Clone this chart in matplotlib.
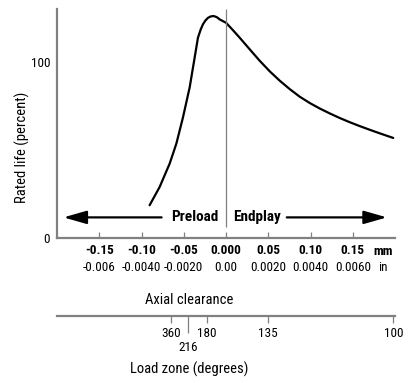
import matplotlib
matplotlib.use("Agg")

import matplotlib.pyplot as plt

plt.rcParams["font.family"] = ["Roboto Condensed", "DejaVu Sans"]

# curve (axial clearance in mm, rated life in percent)
clearance_mm = [-0.0904, -0.0785, -0.0667, -0.0588, -0.0509, -0.0430, -0.0371,
                -0.0332, -0.0300, -0.0273, -0.0243, -0.0213, -0.0180, -0.0146,
                -0.0110, -0.0075, 0.0, 0.0080, 0.0162, 0.0281, 0.0399, 0.0518,
                0.0636, 0.0755, 0.0873, 0.0992, 0.1110, 0.1229, 0.1347, 0.1466,
                0.1584, 0.1703, 0.1821, 0.1979]
rated_life = [18.6, 29.0, 42.2, 53.5, 68.5, 85.5, 102.4, 113.7, 118.3, 121.3,
              123.5, 125.0, 125.8, 126.0, 125.4, 124.1, 122.2, 118.1, 113.7,
              107.1, 100.6, 94.6, 89.3, 84.5, 80.2, 76.6, 73.5, 70.7, 68.1,
              65.7, 63.5, 61.4, 59.4, 56.8]

mm_ticks = [-0.15, -0.10, -0.05, 0.0, 0.05, 0.10, 0.15]
mm_labels = ["-0.15", "-0.10", "-0.05", "0.000", "0.05", "0.10", "0.15"]
in_labels = ["-0.006", "-0.0040", "-0.0020", "0.00", "0.0020", "0.0040", "0.0060"]

load_zone_deg = ["360", "180", "135", "100"]
load_zone_pos = [-0.065, -0.023, 0.050, 0.198]
load_zone_mid_deg = ["216"]
load_zone_mid_pos = [-0.045]

GRAY = "#808080"

fig = plt.figure(figsize=(4.15, 3.83), dpi=100)
L, W = 57 / 415, 338 / 415
ax = fig.add_axes([L, 1 - 238 / 383, W, 229 / 383])

ax.plot(clearance_mm, rated_life, color="black", lw=1.6,
        solid_capstyle="round", solid_joinstyle="round")
ax.vlines(0, 6, 130, color=GRAY, lw=0.9)

ax.set_xlim(-0.2, 0.2)
ax.set_ylim(0, 130)
for side in ("top", "right"):
    ax.spines[side].set_visible(False)
for side in ("left", "bottom"):
    ax.spines[side].set_color(GRAY)
    ax.spines[side].set_linewidth(1.6)

ax.set_xticks(mm_ticks, labels=mm_labels, fontweight="bold", fontsize=9.5)
ax.tick_params(axis="x", direction="in", length=4.5, width=0.9, color=GRAY, pad=4)
ax.set_yticks([0, 100])
ax.tick_params(axis="y", length=0, pad=5, labelsize=9.5)

for x, lab in zip(mm_ticks, in_labels):
    ax.text(x, -16.6, lab, ha="center", va="center", fontsize=9.5, clip_on=False)
ax.text(0.186, -7.7, "mm", ha="center", va="center", fontsize=9.5,
        fontweight="bold", clip_on=False)
ax.text(0.186, -16.6, "in", ha="center", va="center", fontsize=9.5, clip_on=False)

arrow = dict(arrowstyle="-|>,head_length=1.4,head_width=0.4", lw=1.6,
             color="black", mutation_scale=10, shrinkA=0, shrinkB=0)
ax.annotate("", xy=(-0.1923, 11.7), xytext=(-0.0762, 11.7), arrowprops=arrow)
ax.annotate("", xy=(0.1904, 11.7), xytext=(0.0719, 11.7), arrowprops=arrow)
ax.text(-0.0095, 11.7, "Preload", ha="right", va="center", fontsize=11,
        fontweight="bold")
ax.text(0.0083, 11.7, "Endplay", ha="left", va="center", fontsize=11,
        fontweight="bold")

# load zone scale
ax2 = fig.add_axes([L, 1 - 315.7 / 383, W, 0.05])
ax2.set_xlim(-0.2, 0.2)
ax2.patch.set_visible(False)
for side in ("top", "right", "left"):
    ax2.spines[side].set_visible(False)
ax2.spines["bottom"].set_color(GRAY)
ax2.spines["bottom"].set_linewidth(1.6)
ax2.set_yticks([])
ax2.set_xticks(load_zone_pos, labels=load_zone_deg, fontsize=9.5)
ax2.set_xticks(load_zone_mid_pos, labels=load_zone_mid_deg, minor=True, fontsize=9.5)
ax2.tick_params(axis="x", which="major", direction="out", length=5, width=0.9,
                color=GRAY, pad=3)
ax2.tick_params(axis="x", which="minor", direction="out", length=12.5, width=0.9,
                color=GRAY, pad=6)

fig.text(189 / 415, 1 - 300 / 383, "Axial clearance", ha="center", va="center",
         fontsize=10.5)
fig.text(189 / 415, 1 - 369 / 383, "Load zone (degrees)", ha="center",
         va="center", fontsize=10.5)
fig.text(22 / 415, 1 - 147.5 / 383, "Rated life (percent)", rotation=90,
         ha="center", va="center", fontsize=10.5)

fig.savefig("out.png", dpi=100)
plt.close(fig)
